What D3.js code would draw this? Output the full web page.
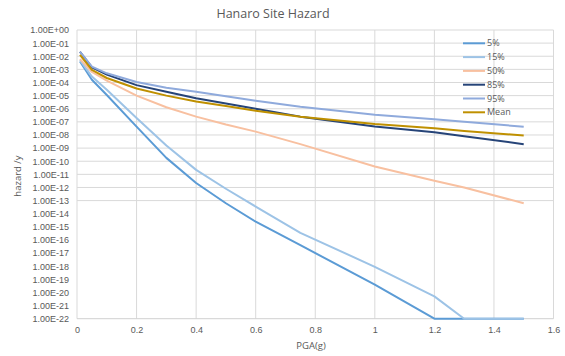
<!DOCTYPE html>
<html><head><meta charset="utf-8">
<script src="https://cdn.jsdelivr.net/npm/d3@7"></script>
<style>body{margin:0;background:#fff}svg{font-family:"Open Sans","Liberation Sans",sans-serif}</style>
</head><body><svg id="c" width="565" height="356"></svg>
<script>
const pga = [0.01, 0.05, 0.1, 0.2, 0.3, 0.4, 0.5, 0.6, 0.75, 1.0, 1.2, 1.3, 1.5];
const p5   = [4e-3, 1.6e-4, 1.1e-5, 4.3e-8, 1.8e-10, 2.2e-12, 6.3e-14, 2.5e-15, 4e-17, 4e-20, 1e-22, 1e-22, 1e-22];
const p15  = [5e-3, 2.8e-4, 2.8e-5, 2e-7, 1.6e-9, 2.2e-11, 8e-13, 3.5e-14, 3.5e-16, 9e-19, 5e-21, 1e-22, 1e-22];
const p50  = [6e-3, 6.3e-4, 1.4e-4, 1e-5, 1.3e-6, 2.5e-7, 6.3e-8, 1.8e-8, 2e-9, 4e-11, 3.2e-12, 1e-12, 6.3e-14];
const p85  = [2.2e-2, 1.4e-3, 4e-4, 6.3e-5, 2e-5, 6.3e-6, 2.5e-6, 1e-6, 2.5e-7, 4.5e-8, 1.6e-8, 8e-9, 2e-9];
const p95  = [2.2e-2, 1.6e-3, 5e-4, 1.1e-4, 4e-5, 2e-5, 9e-6, 4e-6, 1.4e-6, 3.5e-7, 1.55e-7, 1e-7, 4.3e-8];
const pMean= [1.25e-2, 9e-4, 2.2e-4, 3.5e-5, 1e-5, 3.5e-6, 1.6e-6, 7e-7, 2.5e-7, 6.9e-8, 3.2e-8, 2e-8, 9.3e-9];
const seriesNames = ["5%", "15%", "50%", "85%", "95%", "Mean"];
const seriesVals = [p5, p15, p50, p85, p95, pMean];
const colors = ["#5b9bd5", "#9dc3e6", "#f8c0a0", "#264478", "#8faadc", "#bf9000"];
const yTicks = d3.range(0, -23, -1).map(e => Math.pow(10, e));
const xTicks = [0, 0.2, 0.4, 0.6, 0.8, 1, 1.2, 1.4, 1.6];

const svg = d3.select("#c");
const x = d3.scaleLinear().domain([0, 1.6]).range([77, 553.5]);
const y = d3.scaleLog().domain([1, 1e-22]).range([30, 318.7]);

const fmt = v => { const e = Math.round(Math.log10(v)); const s = e < 0 ? "-" : "+"; return "1.00E" + s + String(Math.abs(e)).padStart(2, "0"); };

// horizontal gridlines (only down to 1E-13 as in reference)
svg.append("g").selectAll("line").data(yTicks.filter(v => v >= 1e-13)).join("line")
  .attr("x1", x(0)).attr("x2", x(1.6)).attr("y1", d => y(d)).attr("y2", d => y(d))
  .attr("stroke", "#d9d9d9").attr("stroke-width", 1);
// vertical gridlines
svg.append("g").selectAll("line").data(xTicks).join("line")
  .attr("x1", d => x(d)).attr("x2", d => x(d)).attr("y1", y(1)).attr("y2", y(1e-22))
  .attr("stroke", "#d9d9d9").attr("stroke-width", 1);
// bottom axis line
svg.append("line").attr("x1", x(0)).attr("x2", x(1.6)).attr("y1", y(1e-22)).attr("y2", y(1e-22))
  .attr("stroke", "#d0d0d0").attr("stroke-width", 1);

// axes via d3
const ya = svg.append("g").attr("transform", `translate(${x(0) - 8},0)`)
  .call(d3.axisLeft(y).tickValues(yTicks).tickFormat(fmt).tickSize(0));
ya.select(".domain").remove();
ya.selectAll("text").attr("fill", "#595959").style("font-size", "9px").attr("x", 0);
const xa = svg.append("g").attr("transform", `translate(0,${y(1e-22) + 8})`)
  .call(d3.axisBottom(x).tickValues(xTicks).tickFormat(d3.format("")).tickSize(0));
xa.select(".domain").remove();
xa.selectAll("text").attr("fill", "#595959").style("font-size", "9px").attr("y", 0).attr("dy", "0.71em");

// lines
const line = d3.line().x((d, i) => x(pga[i])).y(d => y(d));
seriesVals.forEach((vals, k) => {
  svg.append("path").datum(vals).attr("d", line).attr("fill", "none")
    .attr("stroke", colors[k]).attr("stroke-width", 2).attr("stroke-linejoin", "round");
});

// title and labels
svg.append("text").attr("x", 273).attr("y", 18).attr("text-anchor", "middle")
  .attr("fill", "#595959").style("font-size", "12.5px").text("Hanaro Site Hazard");
svg.append("text").attr("transform", "translate(21,176) rotate(-90)").attr("text-anchor", "middle")
  .attr("fill", "#595959").style("font-size", "9.5px").text("hazard /y");
svg.append("text").attr("x", 311).attr("y", 349).attr("text-anchor", "middle")
  .attr("fill", "#595959").style("font-size", "9.5px").text("PGA(g)");

// legend
const lg = svg.append("g");
seriesNames.forEach((n, k) => {
  const yy = 43.3 + k * 13.8;
  lg.append("line").attr("x1", 463).attr("x2", 485).attr("y1", yy).attr("y2", yy)
    .attr("stroke", colors[k]).attr("stroke-width", 2);
  lg.append("text").attr("x", 487).attr("y", yy).attr("dy", "0.35em")
    .attr("fill", "#595959").style("font-size", "9px").text(n);
});
</script></body></html>
